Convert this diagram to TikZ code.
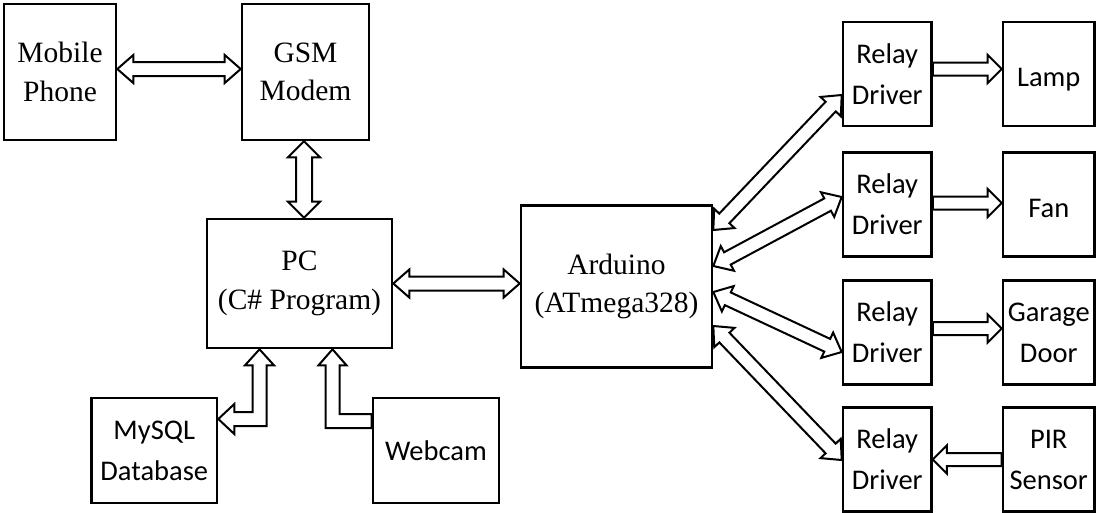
\documentclass[tikz,border=0pt]{standalone}
\usepackage{fontspec}
\setmainfont{Liberation Serif}
\newfontfamily\calibrifont{Carlito}
\usetikzlibrary{calc}

% sizes of the hollow block arrows
\def\shalf{7pt}
\def\hhalf{14pt}
\def\hlen{16pt}

% two-headed hollow arrow between two points
\newcommand\twoway[2]{%
  \coordinate (p) at #1; \coordinate (q) at #2;
  \draw[hollow] (p)
    -- ($(p)!\hlen!(q)!\hhalf!90:(q)$)
    -- ($(p)!\hlen!(q)!\shalf!90:(q)$)
    -- ($(q)!\hlen!(p)!\shalf!-90:(p)$)
    -- ($(q)!\hlen!(p)!\hhalf!-90:(p)$)
    -- (q)
    -- ($(q)!\hlen!(p)!\hhalf!90:(p)$)
    -- ($(q)!\hlen!(p)!\shalf!90:(p)$)
    -- ($(p)!\hlen!(q)!\shalf!-90:(q)$)
    -- ($(p)!\hlen!(q)!\hhalf!-90:(q)$)
    -- cycle;}

% one-headed hollow arrow, tail at the first point
\newcommand\oneway[2]{%
  \coordinate (p) at #1; \coordinate (q) at #2;
  \draw[hollow] ($(p)!\shalf!90:(q)$)
    -- ($(q)!\hlen!(p)!\shalf!-90:(p)$)
    -- ($(q)!\hlen!(p)!\hhalf!-90:(p)$)
    -- (q)
    -- ($(q)!\hlen!(p)!\hhalf!90:(p)$)
    -- ($(q)!\hlen!(p)!\shalf!90:(p)$)
    -- ($(p)!\shalf!-90:(q)$)
    -- cycle;}

% single word set a little below the middle of its box
\newcommand\lowword[1]{\raisebox{-12.5pt}[0pt][0pt]{#1}}

\begin{document}
\begin{tikzpicture}[x=1pt,y=-1pt,
  box/.style={draw, line width=2.6pt, inner sep=0pt, align=center},
  serifbox/.style={box, font=\fontsize{29.5}{38.3}\selectfont},
  sansbox/.style={box, font=\calibrifont\fontsize{28.5}{41}\selectfont},
  relaybox/.style={sansbox, minimum width=88.5pt, minimum height=104pt},
  devbox/.style={sansbox, minimum width=91.5pt, minimum height=104pt},
  hollow/.style={draw, line width=2pt, fill=white, line join=miter}]
\useasboundingbox (0,0) rectangle (1105,512);

% left half: phone, modem, PC and its peripherals
\node[serifbox, minimum width=112pt, minimum height=136pt] (mobile) at (60,72) {Mobile\\Phone};
\node[serifbox, minimum width=127pt, minimum height=136pt] (gsm) at (305.5,72) {GSM\\Modem};
\node[serifbox, minimum width=185pt, minimum height=129pt] (pc) at (299.5,283.5) {PC\\(C\# Program)};
\node[serifbox, minimum width=191pt, minimum height=162pt] (ard) at (616.5,286.5) {Arduino\\(ATmega328)};
\node[sansbox, minimum width=125.5pt, minimum height=105pt] (db) at (154.25,450.5) {MySQL\\Database};
\node[sansbox, minimum width=126pt, minimum height=105pt] (cam) at (436,450.5) {Webcam};

% right half: relay drivers and the loads
\node[relaybox] (r1) at (887.25,74) {Relay\\Driver};
\node[relaybox] (r2) at (887.25,204.5) {Relay\\Driver};
\node[relaybox] (r3) at (887.25,332.5) {Relay\\Driver};
\node[relaybox] (r4) at (887.25,459.5) {Relay\\Driver};
\node[devbox] (lamp) at (1048.75,74) {\lowword{Lamp}};
\node[devbox] (fan) at (1048.75,204.5) {\lowword{Fan}};
\node[devbox] (door) at (1048.75,332.5) {Garage\\Door};
\node[devbox] (pir) at (1048.75,459.5) {PIR\\Sensor};

% straight links
\twoway{($(mobile.east)+(0,-3)$)}{($(gsm.west)+(0,-3)$)}
\begingroup
\def\shalf{8pt}\def\hhalf{16pt}
\twoway{($(gsm.south)+(-1.5,0)$)}{($(gsm.south |- pc.north)+(-1.5,0)$)}
\endgroup
\twoway{(pc.east)}{(ard.west |- pc.east)}

% Arduino to the relay drivers
\twoway{($(ard.east)+(0,-56.5)$)}{($(r1.west)+(0,21)$)}
\twoway{($(ard.east)+(0,-20.5)$)}{($(r2.west)+(0,-7.5)$)}
\twoway{($(ard.east)+(0,5.5)$)}{($(r3.west)+(0,19.5)$)}
\twoway{($(ard.east)+(0,39.5)$)}{($(r4.west)+(0,0.5)$)}

% relay drivers to the loads
\def\shalf{6.5pt}\def\hhalf{14pt}\def\hlen{14pt}
\oneway{($(r1.east)+(0,-5)$)}{($(lamp.west)+(0,-5)$)}
\oneway{($(r2.east)+(0,-1.5)$)}{($(fan.west)+(0,-1.5)$)}
\oneway{($(r3.east)+(0,-4)$)}{($(door.west)+(0,-4)$)}
\oneway{(pir.west)}{(r4.east)}

% elbow link between the database and the PC
\coordinate (mb) at (259.5,419);
\coordinate (mt) at (pc.south -| mb);
\coordinate (md) at (db.east |- mb);
\draw[hollow] (mt) -- ($(mt)+(14.5,16)$) -- ($(mt)+(7,16)$) -- ($(mb)+(7,7)$)
  -- ($(md)+(16,7)$) -- ($(md)+(16,15)$) -- (md) -- ($(md)+(16,-15)$)
  -- ($(md)+(16,-7)$) -- ($(mb)+(-7,-7)$) -- ($(mt)+(-7,16)$)
  -- ($(mt)+(-14.5,16)$) -- cycle;

% elbow link from the webcam into the PC
\coordinate (wb) at (332.5,421);
\coordinate (wt) at (pc.south -| wb);
\coordinate (wc) at (cam.west |- wb);
\draw[hollow] (wt) -- ($(wt)+(14,16)$) -- ($(wt)+(7,16)$) -- ($(wb)+(7,-7)$)
  -- ($(wc)+(0,-7)$) -- ($(wc)+(0,7)$) -- ($(wb)+(-7,7)$)
  -- ($(wt)+(-7,16)$) -- ($(wt)+(-14,16)$) -- cycle;
\end{tikzpicture}
\end{document}
